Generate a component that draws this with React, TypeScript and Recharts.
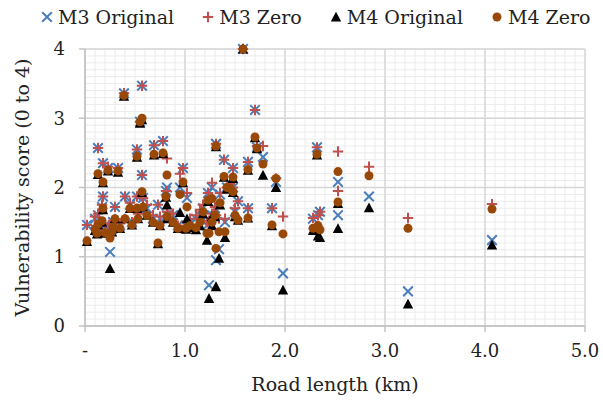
import React from "react";
import {
  ScatterChart, Scatter, XAxis, YAxis, CartesianGrid,
} from "recharts";

// road length (km) for each road, and the four vulnerability scores
const roadLength = [
  0.02, 0.10, 0.13, 0.13, 0.12, 0.18, 0.18, 0.17, 0.20, 0.23,
  0.25, 0.27, 0.28, 0.30, 0.33, 0.35, 0.39, 0.40, 0.45, 0.47,
  0.52, 0.52, 0.53, 0.55, 0.57, 0.57, 0.58, 0.62, 0.68, 0.69,
  0.73, 0.75, 0.78, 0.81, 0.82, 0.82, 0.88, 0.93, 0.95, 0.98,
  1.01, 1.02, 1.05, 1.11, 1.15, 1.18, 1.22, 1.23, 1.24, 1.27,
  1.27, 1.30, 1.31, 1.31, 1.34, 1.35, 1.39, 1.40, 1.42, 1.45,
  1.48, 1.48, 1.50, 1.53, 1.58, 1.63, 1.63, 1.70, 1.72, 1.78,
  1.87, 1.91, 1.98, 2.28, 2.32, 2.33, 2.35, 2.53, 2.53, 2.84,
  3.23, 4.07,
];
const m3Original = [
  1.46, 1.55, 2.57, 1.60, 1.38, 2.35, 1.87, 1.72, 1.45, 2.28,
  1.07, 1.40, 1.50, 1.72, 2.28, 1.45, 3.36, 1.87, 1.75, 1.50,
  2.55, 1.87, 1.60, 2.95, 3.47, 2.18, 1.85, 1.70, 1.55, 2.61,
  1.75, 1.55, 2.67, 1.95, 2.00, 1.60, 1.60, 1.45, 2.00, 2.28,
  1.45, 1.85, 1.50, 1.55, 1.60, 1.70, 1.45, 1.92, 0.59, 2.00,
  1.60, 1.70, 2.63, 0.95, 1.11, 1.90, 2.40, 1.50, 2.00, 2.05,
  2.28, 2.00, 1.65, 1.80, 4.00, 2.37, 1.70, 3.12, 2.58, 2.44,
  1.70, 2.08, 0.76, 1.55, 2.58, 1.60, 1.65, 2.08, 1.60, 1.87,
  0.50, 1.24,
];
const m3Zero = [
  1.46, 1.58, 2.57, 1.62, 1.40, 2.35, 1.87, 1.75, 1.48, 2.30,
  1.45, 1.42, 1.52, 1.72, 2.28, 1.48, 3.36, 1.87, 1.78, 1.50,
  2.55, 1.87, 1.62, 2.95, 3.47, 2.18, 1.85, 1.75, 1.60, 2.61,
  1.75, 1.58, 2.67, 1.95, 2.42, 1.65, 1.62, 1.45, 2.20, 2.28,
  1.50, 1.92, 1.55, 1.60, 1.68, 1.75, 1.50, 1.92, 1.52, 2.07,
  1.62, 1.72, 2.63, 1.60, 1.55, 1.92, 2.40, 1.55, 2.00, 2.05,
  2.28, 2.00, 1.70, 1.80, 4.00, 2.37, 1.70, 3.12, 2.60, 2.60,
  1.70, 2.13, 1.58, 1.56, 2.58, 1.60, 1.65, 2.52, 1.95, 2.30,
  1.56, 1.76,
];
const m4Original = [
  1.22, 1.38, 2.19, 1.46, 1.33, 2.07, 1.68, 1.50, 1.34, 2.24,
  0.83, 1.36, 1.43, 1.55, 2.22, 1.41, 3.32, 1.55, 1.70, 1.46,
  2.44, 1.70, 1.55, 2.93, 2.98, 1.93, 1.72, 1.60, 1.50, 2.47,
  1.19, 1.45, 2.49, 1.86, 1.75, 1.55, 1.50, 1.41, 1.64, 2.07,
  1.40, 1.55, 1.42, 1.39, 1.45, 1.62, 1.24, 1.80, 0.40, 1.58,
  1.45, 1.58, 2.59, 0.57, 0.98, 1.75, 2.15, 1.28, 1.98, 1.98,
  2.13, 1.93, 1.58, 1.53, 4.00, 2.25, 1.56, 2.72, 2.56, 2.18,
  1.45, 2.00, 0.52, 1.38, 2.47, 1.30, 1.28, 1.77, 1.41, 1.71,
  0.32, 1.17,
];
const m4Zero = [
  1.23, 1.40, 2.20, 1.47, 1.34, 2.08, 1.70, 1.52, 1.35, 2.25,
  1.27, 1.36, 1.43, 1.55, 2.24, 1.41, 3.33, 1.55, 1.70, 1.46,
  2.45, 1.70, 1.55, 2.95, 3.00, 1.94, 1.72, 1.60, 1.50, 2.48,
  1.20, 1.45, 2.50, 1.87, 2.18, 1.58, 1.50, 1.41, 1.90, 2.08,
  1.41, 1.72, 1.45, 1.42, 1.50, 1.65, 1.34, 1.82, 1.34, 1.84,
  1.50, 1.60, 2.60, 1.12, 1.36, 1.78, 2.16, 1.36, 2.00, 1.99,
  2.15, 1.94, 1.60, 1.53, 4.00, 2.26, 1.56, 2.73, 2.57, 2.34,
  1.46, 2.13, 1.33, 1.41, 2.48, 1.45, 1.39, 2.23, 1.79, 2.17,
  1.41, 1.69,
];

const xTicks = [0, 1, 2, 3, 4, 5];
const yTicks = [0, 1, 2, 3, 4];
const minorX = Array.from({ length: 51 }, (_, i) => i / 10);
const minorY = Array.from({ length: 41 }, (_, i) => i / 10);

const FONT = "'DejaVu Serif', serif";
const BLUE = "#4a7ebb";
const RED = "#c0504d";
const BROWN = "#984807";

const toPoints = (ys: number[]) => roadLength.map((x, i) => ({ x, y: ys[i] }));

function XMark({ cx, cy }: any) {
  const s = 4.8;
  return (
    <path
      d={`M${cx - s},${cy - s}L${cx + s},${cy + s}M${cx + s},${cy - s}L${cx - s},${cy + s}`}
      stroke={BLUE} strokeWidth={2} fill="none"
    />
  );
}
function PlusMark({ cx, cy }: any) {
  const s = 5.2;
  return (
    <path
      d={`M${cx - s},${cy}L${cx + s},${cy}M${cx},${cy - s}L${cx},${cy + s}`}
      stroke={RED} strokeWidth={2} fill="none"
    />
  );
}
function TriMark({ cx, cy }: any) {
  return <path d={`M${cx},${cy - 5.2}L${cx + 5.2},${cy + 4.6}L${cx - 5.2},${cy + 4.6}Z`} fill="#000" />;
}
function DotMark({ cx, cy }: any) {
  return <circle cx={cx} cy={cy} r={4.5} fill={BROWN} />;
}

const series = [
  { name: "M3 Original", values: m3Original, shape: XMark },
  { name: "M3 Zero", values: m3Zero, shape: PlusMark },
  { name: "M4 Original", values: m4Original, shape: TriMark },
  { name: "M4 Zero", values: m4Zero, shape: DotMark },
];

function YLabel({ viewBox }: any) {
  const { x, y, height } = viewBox;
  const cx = x + 22;
  const cy = y + height / 2;
  return (
    <text x={cx} y={cy} transform={`rotate(-90 ${cx} ${cy})`} textAnchor="middle"
      dominantBaseline="central" fontFamily={FONT} fontSize={19} fill="#222">
      Vulnerability score (0 to 4)
    </text>
  );
}
function XLabel({ viewBox }: any) {
  const { x, y, width } = viewBox;
  return (
    <text x={x + width / 2} y={y + 58} textAnchor="middle" dominantBaseline="central"
      fontFamily={FONT} fontSize={19} fill="#222">
      Road length (km)
    </text>
  );
}

function Legend() {
  return (
    <div style={{
      position: "absolute", top: 6, left: 40, display: "flex", gap: 27,
      fontFamily: FONT, fontSize: 19, color: "#222", alignItems: "center",
    }}>
      {series.map((s) => {
        const Shape = s.shape;
        return (
          <div key={s.name} style={{ display: "flex", alignItems: "center", gap: 4 }}>
            <svg width={14} height={14}><Shape cx={7} cy={7} /></svg>
            <span>{s.name}</span>
          </div>
        );
      })}
    </div>
  );
}

const scaleOf = (axis: any) => (axis && typeof axis.scale === "function" ? axis.scale : null);

export default function App() {
  return (
    <div style={{ position: "absolute", left: 0, top: 0, width: 603, height: 403, background: "#fff" }}>
      <ScatterChart width={603} height={403} margin={{ top: 49, right: 18, bottom: 0, left: 0 }}>
        <CartesianGrid
          stroke="#ebebeb"
          strokeWidth={1}
          verticalCoordinatesGenerator={({ xAxis, offset }: any) => {
            const sc = scaleOf(xAxis);
            return minorX.map((v) => (sc ? sc(v) : offset.left + (v / 5) * offset.width));
          }}
          horizontalCoordinatesGenerator={({ yAxis, offset }: any) => {
            const sc = scaleOf(yAxis);
            return minorY.map((v) => (sc ? sc(v) : offset.top + offset.height - (v / 4) * offset.height));
          }}
        />
        <CartesianGrid stroke="#d6d6d6" strokeWidth={1.4} />
        <XAxis
          type="number" dataKey="x" domain={[0, 5]} ticks={xTicks} height={77}
          tickFormatter={(v: number) => (v === 0 ? "-" : v.toFixed(1))}
          tick={{ fill: "#222", fontSize: 18, fontFamily: FONT }}
          axisLine={{ stroke: "#bfbfbf", strokeWidth: 1.4 }}
          tickLine={{ stroke: "#bfbfbf", strokeWidth: 1.4 }}
          tickSize={6} tickMargin={12}
          label={<XLabel />}
        />
        <YAxis
          type="number" dataKey="y" domain={[0, 4]} ticks={yTicks} width={85}
          tick={{ fill: "#222", fontSize: 18, fontFamily: FONT }}
          axisLine={{ stroke: "#bfbfbf", strokeWidth: 1.4 }}
          tickLine={{ stroke: "#bfbfbf", strokeWidth: 1.4 }}
          tickSize={6} tickMargin={14}
          label={<YLabel />}
        />
        {series.map((s) => (
          <Scatter key={s.name} name={s.name} data={toPoints(s.values)} shape={s.shape}
            isAnimationActive={false} />
        ))}
      </ScatterChart>
      <Legend />
    </div>
  );
}
